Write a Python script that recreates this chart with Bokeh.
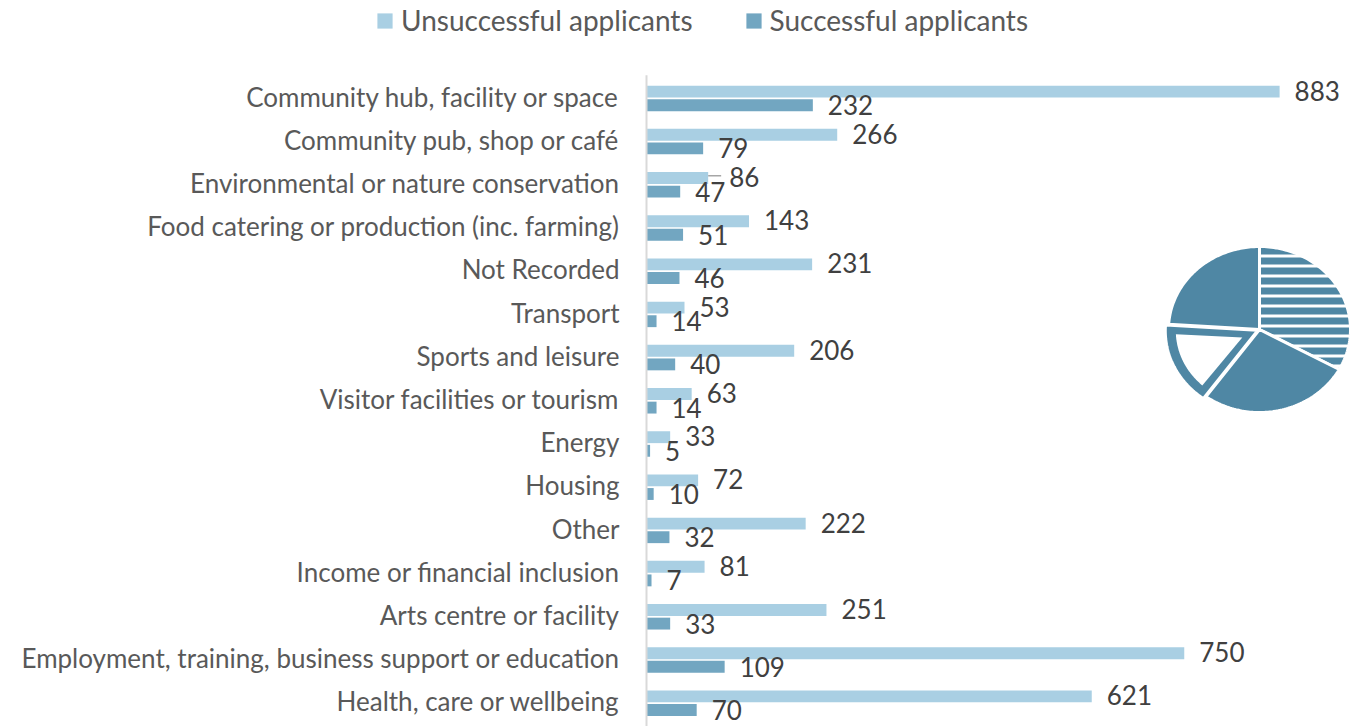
import numpy as np
from bokeh.plotting import figure
from bokeh.models import ColumnDataSource, Legend, LegendItem, Range1d
from bokeh.core.properties import value
from bokeh.embed import file_html
from bokeh.resources import INLINE

# ---------------- data ----------------
categories = [
    "Community hub, facility or space",
    "Community pub, shop or café",
    "Environmental or nature conservation",
    "Food catering or production (inc. farming)",
    "Not Recorded",
    "Transport",
    "Sports and leisure",
    "Visitor facilities or tourism",
    "Energy",
    "Housing",
    "Other",
    "Income or financial inclusion",
    "Arts centre or facility",
    "Employment, training, business support or education",
    "Health, care or wellbeing",
]
unsuccessful = [883, 266, 86, 143, 231, 53, 206, 63, 33, 72, 222, 81, 251, 750, 621]
successful = [232, 79, 47, 51, 46, 14, 40, 14, 5, 10, 32, 7, 33, 109, 70]
series_names = ["Unsuccessful applicants", "Successful applicants"]
pie_shares = [33, 27, 16, 24]  # decorative pie, clockwise from 12 o'clock

# ---------------- layout / style ----------------
W, H = 1352, 726
AX = 646          # frame px of value axis
PXU = 0.717       # px per unit
ROW = 43.2        # px per category
TOP = 98          # frame px (from top) of first category centre
LIGHT = "#A9CFE3"
DARK = "#72A6C1"
PIE = "#4F87A4"
FONT = value("Lato")

x_range = Range1d(-AX / PXU, (W - AX) / PXU)
y_range = Range1d(-(H - TOP) / ROW, TOP / ROW)

p = figure(width=W, height=H, x_range=x_range, y_range=y_range,
           output_backend="svg", toolbar_location=None,
           x_axis_location=None, y_axis_location=None, min_border=0)
p.grid.visible = False
p.outline_line_color = None
p.background_fill_color = "white"

n = len(categories)
ys = -np.arange(n, dtype=float)
off_u, off_s, bh = 0.16, -0.155, 0.275

src = ColumnDataSource(dict(
    y_u=ys + off_u, y_s=ys + off_s, unsuc=unsuccessful, suc=successful,
    t_u=[str(v) for v in unsuccessful], t_s=[str(v) for v in successful],
    cat=categories, yc=ys,
))

r_u = p.hbar(y="y_u", left=0, right="unsuc", height=bh, source=src,
             fill_color=LIGHT, line_color=None)
r_s = p.hbar(y="y_s", left=0, right="suc", height=bh, source=src,
             fill_color=DARK, line_color=None)

# value axis line
p.segment(x0=[0], y0=[0.54], x1=[0], y1=[y_range.start], line_color="#D9D9D9", line_width=2)

# category labels
p.text(x=0, y="yc", text="cat", source=src, x_offset=-27, y_offset=-2,
       text_align="right", text_baseline="middle", text_font=FONT,
       text_font_size="26px", text_color="#595959")

# value labels (one label nudged right with a leader line, as in the original)
nudge = {"Environmental or nature conservation": 6}
xo_u = [15 + nudge.get(c, 0) for c in categories]
src.data["xo_u"] = xo_u
p.text(x="unsuc", y="y_u", text="t_u", source=src, x_offset="xo_u", y_offset=-1,
       text_baseline="middle", text_font=FONT, text_font_size="26px", text_color="#404040")
p.text(x="suc", y="y_s", text="t_s", source=src, x_offset=15, y_offset=0,
       text_baseline="middle", text_font=FONT, text_font_size="26px", text_color="#404040")
for c, v, y in zip(categories, unsuccessful, ys):
    if c in nudge:
        p.segment(x0=[v], y0=[y + off_u + 0.05], x1=[v + (nudge[c] + 7) / PXU], y1=[y + off_u + 0.05],
                  line_color="#A6A6A6", line_width=1.5)

# legend
legend = Legend(items=[LegendItem(label=series_names[0], renderers=[r_u]),
                       LegendItem(label=series_names[1], renderers=[r_s])],
                orientation="horizontal", location=(375, 689),
                glyph_width=19, glyph_height=19, label_standoff=7, spacing=51,
                padding=0, margin=0, border_line_color=None, background_fill_alpha=0,
                label_text_font="Lato", label_text_font_size="28px", label_text_color="#595959")
p.add_layout(legend)

# decorative pie (elliptical, as in the original)
cx_px, cy_px = 1259, 329
rx_px, ry_px = 91, 83
cx = (cx_px - AX) / PXU
cy = (TOP - cy_px) / ROW
rx = rx_px / PXU
ry = ry_px / ROW
shares = np.array(pie_shares, dtype=float)
bounds = np.concatenate([[0], np.cumsum(shares) / shares.sum()]) * 2 * np.pi
start_ang = np.pi / 2 - bounds[:-1]
end_ang = np.pi / 2 - bounds[1:]

def wedge_poly(a0, a1, r_scale=1.0, dx_px=0.0, dy_px=0.0, apex_px=0.0):
    t = np.linspace(a0, a1, 80)
    mid = (a0 + a1) / 2
    ox = cx + dx_px / PXU + apex_px * np.cos(mid) / PXU
    oy = cy + dy_px / ROW + apex_px * np.sin(mid) / ROW
    xs = [ox] + list(cx + dx_px / PXU + r_scale * rx * np.cos(t))
    yy = [oy] + list(cy + dy_px / ROW + r_scale * ry * np.sin(t))
    return xs, yy

for i in range(len(shares)):
    a0, a1 = start_ang[i], end_ang[i]
    if i == 2:
        mid = (a0 + a1) / 2
        ex, ey = 3 * np.cos(mid), 3 * np.sin(mid)
        xs, yy = wedge_poly(a0, a1, 1.0, ex, ey)
        p.patch(xs, yy, fill_color=PIE, line_color="white", line_width=2)
        # inner white area
        da = 0.11
        xs2, yy2 = wedge_poly(a0 - da, a1 + da, 0.89, ex, ey, apex_px=16)
        p.patch(xs2, yy2, fill_color="white", line_color=None)
    elif i == 0:
        xs, yy = wedge_poly(a0, a1)
        p.patch(xs, yy, fill_color=PIE, line_color="white", line_width=3,
                hatch_pattern="horizontal_line", hatch_color="white",
                hatch_weight=3, hatch_scale=10)
    else:
        xs, yy = wedge_poly(a0, a1)
        p.patch(xs, yy, fill_color=PIE, line_color="white", line_width=3)

open("out.html", "w").write(file_html(p, INLINE))
